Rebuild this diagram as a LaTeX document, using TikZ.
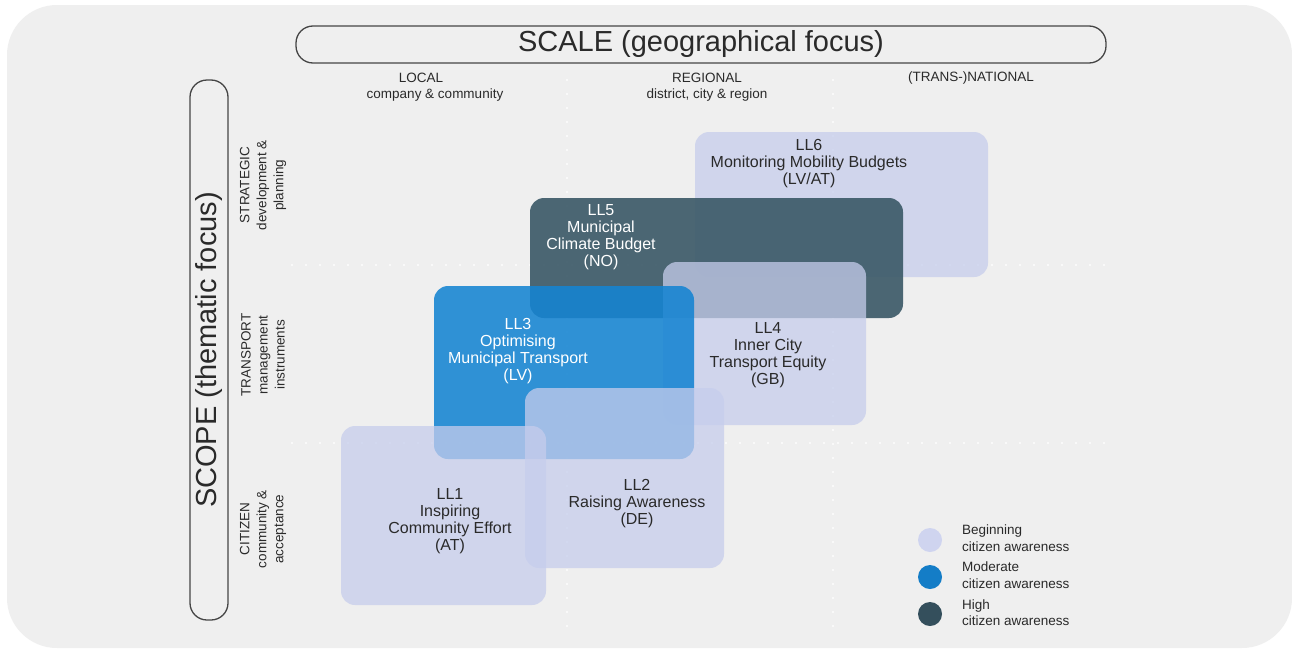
\documentclass[tikz,border=0pt]{standalone}
\usepackage{fontspec}
\setmainfont{Liberation Sans}
\definecolor{bgc}{HTML}{EFEFEF}
\definecolor{lav}{HTML}{C6CDEC}
\definecolor{mblue}{HTML}{1584D2}
\definecolor{dslate}{HTML}{3A5866}
\definecolor{txtc}{HTML}{2A2A2A}
\definecolor{framec}{HTML}{454545}
\begin{document}
\begin{tikzpicture}[x=1pt,y=-1pt,
  boxtxt/.style={font=\fontsize{16}{17}\selectfont, align=center, text=txtc, inner sep=0pt},
  wtxt/.style={boxtxt, text=white},
  hdr/.style={font=\fontsize{13.5}{17}\selectfont, align=center, text=txtc, inner sep=0pt},
  legtxt/.style={font=\fontsize{13.5}{16.5}\selectfont, align=left, text=txtc, inner sep=0pt, anchor=west},
  bigtxt/.style={font=\fontsize{29}{32}\selectfont, text=txtc, inner sep=0pt},
  frame/.style={draw=framec, line width=1.3pt, rounded corners=17pt},
  grid/.style={draw=white, line width=2.2pt, line cap=round, dash pattern=on 0pt off 14pt, opacity=0.9},
  lavbox/.style={fill=lav, fill opacity=0.75, rounded corners=14pt},
  bluebox/.style={fill=mblue, fill opacity=0.88, rounded corners=14pt},
  darkbox/.style={fill=dslate, fill opacity=0.9, rounded corners=14pt},
  dot/.style={circle, minimum size=24pt, inner sep=0pt}
]
\useasboundingbox (0,0) rectangle (1292,648);
\fill[white] (0,0) rectangle (1292,648);
\fill[bgc, rounded corners=50pt] (7,5) rectangle (1292,648);

% grid dots
\draw[grid] (567,80) -- (567,628);
\draw[grid] (833,80) -- (833,628);
\draw[grid] (292,265) -- (1112,265);
\draw[grid] (292,443) -- (1112,443);

% axis frames
\node[frame, minimum width=810pt, minimum height=37pt, inner sep=0pt] (scale) at (701,44.5) {};
\node[bigtxt] (scaletxt) at (scale.center) {SCALE (geographical focus)};
\node[frame, minimum width=38pt, minimum height=540pt, inner sep=0pt] (scope) at (209,350) {};
\node[bigtxt, rotate=90] (scopetxt) at (scope.center) {SCOPE (thematic focus)};

% column headers
\node[hdr] (local) at (421,78) {LOCAL};
\node[hdr] (localsub) at (435,95) {company \& community};
\node[hdr] (regional) at (707,78) {REGIONAL};
\node[hdr] (regionalsub) at (707,95) {district, city \& region};
\node[hdr] (national) at (971,78) {(TRANS-)NATIONAL};

% row headers
\node[hdr, rotate=90] (strategic) at (263,185) {STRATEGIC\\development \&\\planning};
\node[hdr, rotate=90] (transport) at (263,355) {TRANSPORT\\management\\instruments};
\node[hdr, rotate=90] (citizen) at (263,529) {CITIZEN\\community \&\\acceptance};

% boxes
\path[lavbox] (695,132) rectangle (988,277);
\path[darkbox] (530,198) rectangle (903,318);
\path[lavbox] (663,262) rectangle (866,425);
\path[bluebox] (434,286) rectangle (694,459);
\path[lavbox] (525,388) rectangle (724,568);
\path[lavbox] (341,426) rectangle (546,605);

% box texts
\node[boxtxt] (ll6) at (809,164) {LL6\\Monitoring Mobility Budgets\\(LV/AT)};
\node[wtxt] (ll5) at (601,237.5) {LL5\\Municipal\\Climate Budget\\(NO)};
\node[boxtxt] (ll4) at (768,355.5) {LL4\\Inner City\\Transport Equity\\(GB)};
\node[wtxt] (ll3) at (518,351) {LL3\\Optimising\\Municipal Transport\\(LV)};
\node[boxtxt] (ll2) at (637,504) {LL2\\Raising Awareness\\(DE)};
\node[boxtxt] (ll1) at (450,521) {LL1\\Inspiring\\Community Effort\\(AT)};

% legend
\node[dot, fill=lav!85] (c1) at (930,540) {};
\node[dot, fill=mblue!95!black] (c2) at (930,577) {};
\node[dot, fill=dslate!90!black] (c3) at (930,614) {};
\node[legtxt] (l1) at (962,538) {Beginning\\citizen awareness};
\node[legtxt] (l2) at (962,575) {Moderate\\citizen awareness};
\node[legtxt] (l3) at (962,612.5) {High\\citizen awareness};
\end{tikzpicture}
\end{document}
